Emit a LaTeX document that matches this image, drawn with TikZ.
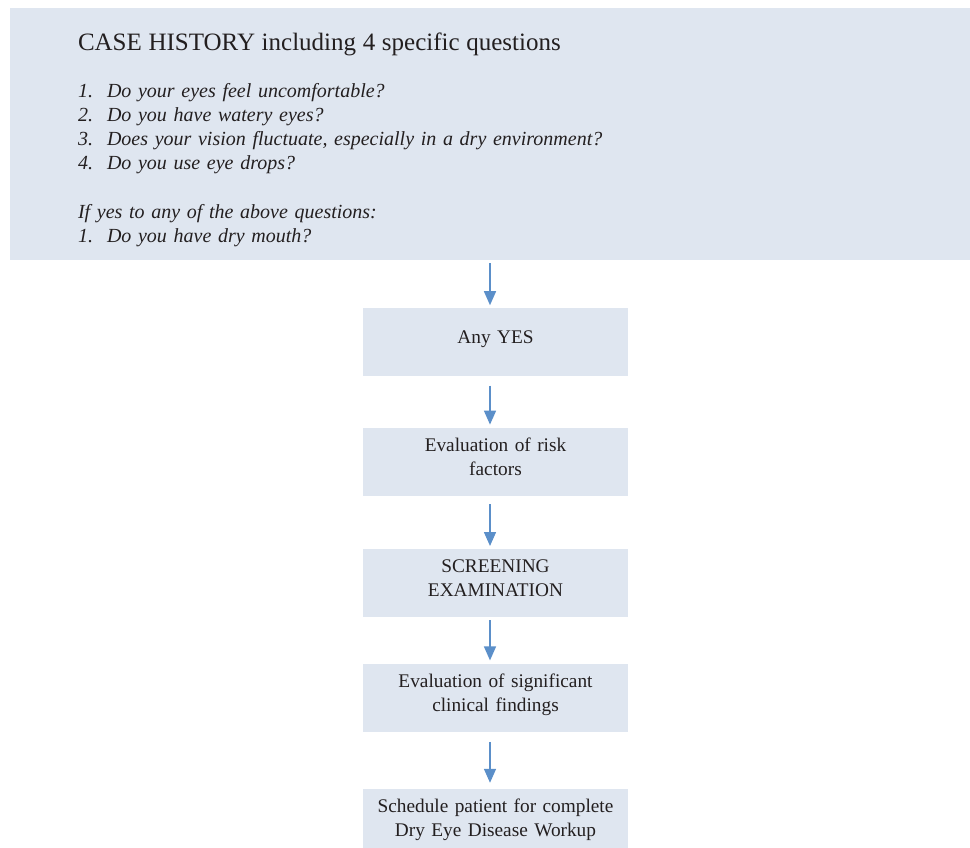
\documentclass[tikz,border=0pt]{standalone}
\usepackage{fontspec}
\setmainfont{Liberation Serif}
\usetikzlibrary{positioning, arrows.meta}
\definecolor{boxfill}{RGB}{223,230,240}
\definecolor{arrowblue}{RGB}{91,143,201}
\definecolor{ink}{RGB}{35,31,32}

\begin{document}
\begin{tikzpicture}[node distance=48pt, >={Triangle[length=14pt,width=12pt]},
    histbox/.style={fill=boxfill, text=ink, minimum width=960pt, minimum height=252pt,
      text width=824pt, inner xsep=68pt, align=left, font=\fontsize{20}{24}\selectfont},
    stepbox/.style={fill=boxfill, text=ink, minimum width=265pt, minimum height=68pt,
      text width=255pt, align=center, font=\fontsize{19.3}{24}\selectfont,
      execute at end node={\rule[-10pt]{0pt}{10pt}}},
    flow/.style={->, draw=arrowblue, line width=1.5pt, shorten <=3pt, shorten >=3pt}]
    \useasboundingbox (0,0) rectangle (970pt,-848pt);

    \node[histbox] (hist) at (490pt,-134pt) {%
      {\fontsize{25}{24}\selectfont\rule{0pt}{31pt}CASE HISTORY including 4 specific questions}\\[23pt]
      \itshape\makebox[29pt][l]{1.}Do your eyes feel uncomfortable?\\
      \makebox[29pt][l]{2.}Do you have watery eyes?\\
      \makebox[29pt][l]{3.}Does your vision fluctuate, especially in a dry environment?\\
      \makebox[29pt][l]{4.}Do you use eye drops?\\[25pt]
      If yes to any of the above questions:\\
      \makebox[29pt][l]{1.}Do you have dry mouth?\rule[-5pt]{0pt}{5pt}};

    \node[stepbox, xshift=5.5pt] (yes) [below=48pt of hist] {Any YES};
    \node[stepbox] (risk) [below=51pt of yes] {Evaluation of risk\\factors};
    \node[stepbox] (screen) [below=53pt of risk] {SCREENING\\EXAMINATION};
    \node[stepbox] (find) [below=46pt of screen] {Evaluation of significant\\clinical findings};
    \node[stepbox] (workup) [below=57pt of find] {Schedule patient for complete\\Dry Eye Disease Workup};

    \draw[flow] (hist.south) -- (hist.south |- yes.north);
    \draw[flow, shorten <=9pt] (yes.south -| hist.south) -- (hist.south |- risk.north);
    \draw[flow, shorten <=8pt] (risk.south -| hist.south) -- (hist.south |- screen.north);
    \draw[flow] (screen.south -| hist.south) -- (hist.south |- find.north);
    \draw[flow, shorten <=10pt, shorten >=6pt] (find.south -| hist.south) -- (hist.south |- workup.north);
  \end{tikzpicture}
\end{document}
